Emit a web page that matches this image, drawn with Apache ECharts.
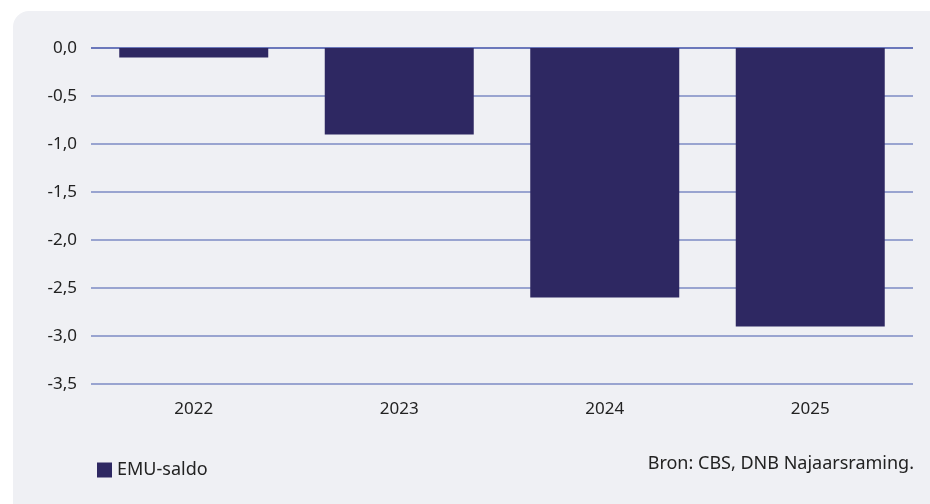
<!DOCTYPE html>
<html>
<head>
<meta charset="utf-8">
<script src="https://cdn.jsdelivr.net/npm/echarts@6/dist/echarts.min.js"></script>
<style>
  html, body { margin: 0; padding: 0; background: #ffffff; }
  #chart { width: 930px; height: 504px; }
</style>
</head>
<body>
<div id="chart"></div>
<script>
// data
const years = ['2022', '2023', '2024', '2025'];
const emuSaldo = [-0.1, -0.9, -2.6, -2.9];
const seriesName = 'EMU-saldo';
const sourceText = 'Bron: CBS, DNB Najaarsraming.';

const textColor = '#222222';
const barColor = '#2e2862';
const fontFamily = '"Noto Sans", "Open Sans", sans-serif';

const chart = echarts.init(document.getElementById('chart'));

chart.setOption({
  animation: false,
  backgroundColor: '#ffffff',
  textStyle: { fontFamily: fontFamily },
  graphic: [
    {
      type: 'rect',
      z: -10,
      shape: { x: 13, y: 11, width: 940, height: 520, r: [16, 0, 0, 0] },
      style: { fill: '#eff0f4' }
    },
    {
      type: 'text',
      right: 16,
      top: 455,
      style: {
        text: sourceText,
        fill: textColor,
        font: '18px ' + fontFamily
      }
    }
  ],
  grid: {
    left: 91,
    right: 17,
    top: 48,
    height: 336
  },
  legend: {
    left: 92,
    top: 456,
    itemWidth: 15,
    itemHeight: 15,
    itemGap: 10,
    icon: 'rect',
    textStyle: { color: textColor, fontSize: 18, fontFamily: fontFamily },
    data: [seriesName]
  },
  xAxis: {
    type: 'category',
    data: years,
    axisLine: { show: false },
    axisTick: { show: false },
    axisLabel: { color: textColor, fontSize: 17, margin: 17 }
  },
  yAxis: {
    type: 'value',
    min: -3.5,
    max: 0,
    interval: 0.5,
    axisLine: { show: false },
    axisTick: { show: false },
    axisLabel: {
      color: textColor,
      fontSize: 17,
      margin: 14,
      formatter: v => v.toFixed(1).replace('.', ',')
    },
    splitLine: {
      lineStyle: {
        color: ['#7d8bc4', '#7d8bc4', '#7d8bc4', '#7d8bc4', '#7d8bc4', '#7d8bc4', '#7d8bc4', '#3f51a8'],
        width: 1.5
      }
    }
  },
  series: [
    {
      name: seriesName,
      type: 'bar',
      data: emuSaldo,
      barCategoryGap: '27.5%',
      itemStyle: { color: barColor },
      z: 3
    }
  ]
});
</script>
</body>
</html>
